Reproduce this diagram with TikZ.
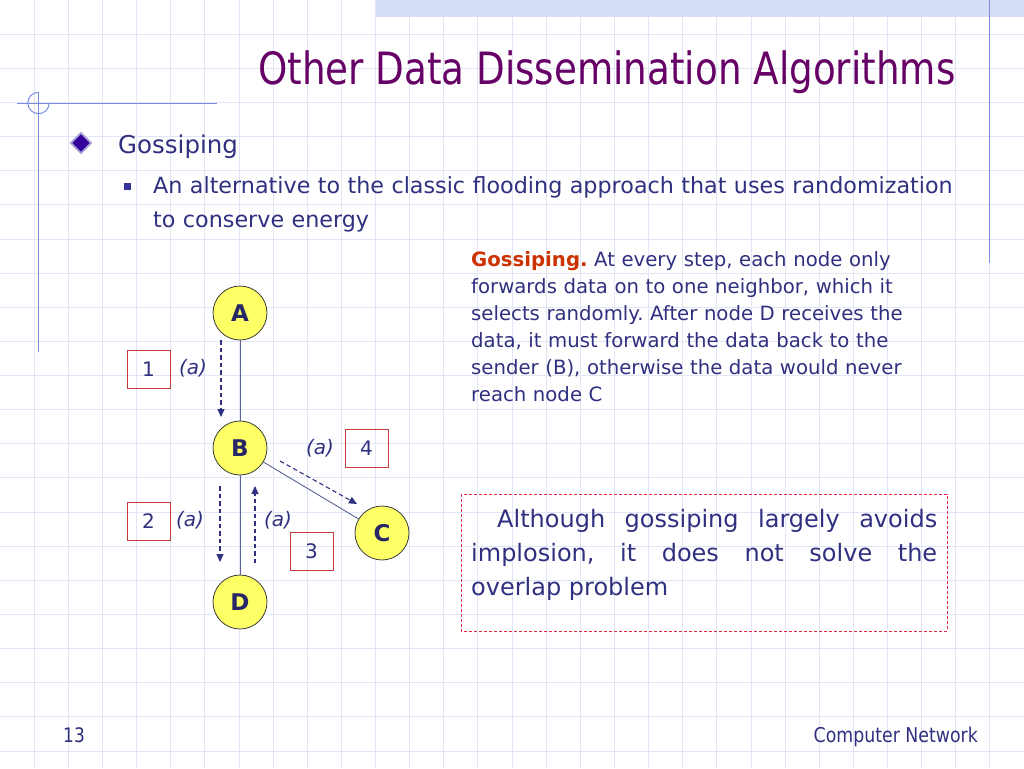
\documentclass[tikz,border=0pt]{standalone}
\usepackage{fontspec}
\setmainfont{DejaVu Sans}
\newfontfamily\titlefont[FakeStretch=0.837]{DejaVu Sans}
\newfontfamily\footfont[FakeStretch=0.85]{DejaVu Sans}
\usetikzlibrary{arrows.meta,shapes.geometric}
\definecolor{txtblue}{RGB}{48,48,128}
\definecolor{ttlpurple}{RGB}{102,0,102}
\definecolor{redbold}{RGB}{204,51,0}
\definecolor{boxred}{RGB}{200,60,60}
\definecolor{dashred}{RGB}{225,40,70}
\definecolor{gridc}{RGB}{226,229,246}
\definecolor{bandc}{RGB}{214,221,246}
\definecolor{decor}{RGB}{120,140,225}
\definecolor{nodeyel}{RGB}{255,255,102}
\definecolor{linkc}{RGB}{90,100,150}
\tikzset{
  gnode/.style={circle, draw={rgb,255:red,60;green,60;blue,60}, line width=0.8pt, fill=nodeyel, minimum size=54pt, inner sep=0pt, font=\bfseries\fontsize{23}{23}\selectfont, text=txtblue!80!black},
  link/.style={draw=linkc, line width=0.9pt},
  darrow/.style={draw=txtblue, line width=1.1pt, dash pattern=on 4.5pt off 3pt, -{Triangle[length=8pt,width=7pt]}},
  numbox/.style={draw=boxred, line width=1pt, minimum width=43pt, minimum height=38pt, inner sep=0pt, text=txtblue, font=\fontsize{20}{20}\selectfont},
  alabel/.style={text=txtblue, font=\itshape\fontsize{20}{20}\selectfont, inner sep=0pt},
  body/.style={text=txtblue, inner sep=0pt}
}
\begin{document}
\begin{tikzpicture}[x=1pt,y=-1pt]
\frenchspacing
\useasboundingbox (0,0) rectangle (1024,768);
\fill[white] (0,0) rectangle (1024,768);
% grid
\foreach \k in {1,...,29} {\draw[gridc, line width=0.8pt] ({\k*34.133},0) -- ({\k*34.133},768);}
\foreach \k in {1,...,22} {\draw[gridc, line width=0.8pt] (0,{\k*34.133}) -- (1024,{\k*34.133});}
% decorations
\fill[bandc] (376,0) rectangle (1024,17);
\draw[decor, line width=1pt] (989.5,0) -- (989.5,263);
\draw[decor, line width=1pt] (17,103) -- (217,103);
\draw[decor, line width=1pt] (38.5,92) -- (38.5,352);
\draw[decor, line width=1pt] (38.5,92.3) arc[start angle=270, end angle=0, radius=10.7];
% title
\node[anchor=base west, inner sep=0pt, text=ttlpurple, font=\titlefont\fontsize{44.5}{44.5}\selectfont] (title) at (258,84) {Other Data Dissemination Algorithms};
% bullets
\node[diamond, fill={rgb,255:red,51;green,0;blue,153}, draw={rgb,255:red,170;green,160;blue,215}, line width=1.8pt, minimum size=21pt, inner sep=0pt] (dia) at (81,143) {};
\node[anchor=base west, body, font=\fontsize{24.5}{25}\selectfont] (goss) at (118,153) {Gossiping};
\node[fill={rgb,255:red,51;green,51;blue,153}, minimum size=7pt, inner sep=0pt] (sq) at (127,186) {};
\node[anchor=base west, body, font=\fontsize{22.25}{34}\selectfont, text width=820pt, align=left] (alt) at (153,193) {An alternative to the classic flooding approach that uses randomization\\to conserve energy};
% paragraph
\node[anchor=base west, body, font=\fontsize{19.7}{27}\selectfont, text width=460pt, align=left] (para) at (471,266) {{\color{redbold}\bfseries Gossiping.} At every step, each node only\\forwards data on to one neighbor, which it\\selects randomly. After node D receives the\\data, it must forward the data back to the\\sender (B), otherwise the data would never\\reach node C};
% dashed box
\draw[dashred, line width=0.9pt, dash pattern=on 3pt off 2pt] (461,494) rectangle (947,631);
\node[anchor=base west, body, font=\fontsize{24}{34}\selectfont, text width=466pt, align=justify] (note) at (471,527) {\hspace*{26pt}Although gossiping largely avoids\linebreak implosion, it does not solve the\linebreak overlap problem};
% graph nodes
\node[gnode] (A) at (240,313) {A};
\node[gnode] (B) at (240,448) {B};
\node[gnode] (C) at (382,533) {C};
\node[gnode] (D) at (240,602) {D};
\draw[link] (A) -- (B);
\draw[link] (B) -- (D);
\draw[link] (B) -- (C);
% dashed arrows
\coordinate (a1s) at (221,340); \coordinate (a1e) at (221,417);
\coordinate (a2s) at (220,486); \coordinate (a2e) at (220,562);
\coordinate (a3s) at (255,563); \coordinate (a3e) at (255,486);
\coordinate (a4s) at (280,461); \coordinate (a4e) at (357,504);
\draw[darrow] (a1s) -- (a1e);
\draw[darrow] (a2s) -- (a2e);
\draw[darrow] (a3s) -- (a3e);
\draw[darrow] (a4s) -- (a4e);
% labels
\node[alabel] (l1) at (193,368) {(a)};
\node[alabel] (l2) at (190,520) {(a)};
\node[alabel] (l3) at (278,520) {(a)};
\node[alabel] (l4) at (320,448) {(a)};
\node[numbox] (n1) at (148.5,369) {1};
\node[numbox] (n2) at (148.5,521) {2};
\node[numbox] (n3) at (311.5,551) {3};
\node[numbox] (n4) at (366.5,448.5) {4};
% footer
\node[anchor=base west, body, font=\footfont\fontsize{20}{20}\selectfont] (pg) at (63,742) {13};
\node[anchor=base east, body, font=\footfont\fontsize{20.4}{20}\selectfont] (cn) at (978,742) {Computer Network};
\end{tikzpicture}
\end{document}
